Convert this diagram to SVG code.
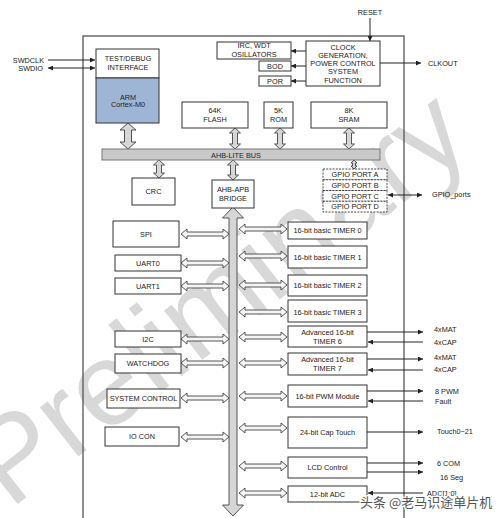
<svg xmlns="http://www.w3.org/2000/svg" xmlns:xlink="http://www.w3.org/1999/xlink" width="500" height="518" viewBox="0 0 500 518">
<style>
text{font-family:"Liberation Sans",Arial,sans-serif;font-size:7.3px;fill:#222}
.c{text-anchor:middle}
.bx{fill:#fff;stroke:#333;stroke-width:1}
.gp{fill:#fff;stroke:#333;stroke-width:0.9;stroke-dasharray:2,1.2}
.ha{fill:#f4f4f4;stroke:#444;stroke-width:0.9}
.va{fill:#d6d6d6;stroke:#444;stroke-width:0.9}
.ln{stroke:#222;stroke-width:1;fill:none}
.wm{font-size:118px;fill:#d8d8d8}
.cn{font-family:"Noto Sans CJK SC",sans-serif;font-size:13px;fill:#555;stroke:#fff;stroke-width:2.5;paint-order:stroke}
</style>
<defs>
<marker id="ah" viewBox="0 0 10 10" refX="10" refY="5" markerWidth="6" markerHeight="5" orient="auto-start-reverse"><path d="M0,0 L10,5 L0,10 z" fill="#222"/></marker>
<path id="dh" d="M0,0 l6,-5 v3 h36 v-3 l6,5 l-6,5 v-3 h-36 v3 z"/>
<path id="dv21" d="M0,0 l5.5,5 h-3 v11 h3 l-5.5,5 l-5.5,-5 h3 v-11 h-3 z"/>
</defs>
<rect width="500" height="518" fill="#fff"/>
<text class="wm" transform="translate(10,510) rotate(-38)">Preliminary</text>
<rect x="83" y="36" width="321" height="500" fill="none" stroke="#555" stroke-width="1.3"/>

<g id="connectors">
<line class="ln" x1="48" y1="60" x2="95" y2="60" marker-end="url(#ah)"/>
<line class="ln" x1="48" y1="68" x2="95" y2="68" marker-start="url(#ah)" marker-end="url(#ah)"/>
<line class="ln" x1="370" y1="18" x2="370" y2="41" marker-end="url(#ah)"/>
<line class="ln" x1="380" y1="63" x2="421" y2="63" marker-end="url(#ah)"/>
<line class="ln" x1="306" y1="51" x2="291" y2="51" marker-end="url(#ah)"/>
<line class="ln" x1="306" y1="66" x2="291" y2="66" marker-end="url(#ah)"/>
<line class="ln" x1="306" y1="81" x2="291" y2="81" stroke-width="1.6" marker-end="url(#ah)"/>
<line class="ln" x1="388" y1="195" x2="422" y2="195" marker-start="url(#ah)" marker-end="url(#ah)"/>
<path class="va" d="M128,123 L136,130 L131.5,130 L131.5,142 L136,142 L128,149 L120,142 L124.5,142 L124.5,130 L120,130 Z"/>
<use href="#dv21" class="va" x="235" y="128"/>
<use href="#dv21" class="va" x="280" y="128"/>
<use href="#dv21" class="va" x="349" y="128"/>
<path class="va" d="M159,160 l5.5,5 h-3 v8 h3 l-5.5,5 l-5.5,-5 h3 v-8 h-3 z"/>
<path class="va" d="M233,160 l5.5,5 h-3 v10 h3 l-5.5,5 l-5.5,-5 h3 v-10 h-3 z"/>
<path class="va" d="M354,160 l3,3 h-1.5 v3 h1.5 l-3,3 l-3,-3 h1.5 v-3 h-1.5 z"/>
<path class="va" d="M233,207 L243.5,218 L237,218 L237,505 L243.5,505 L233,516 L222.5,505 L229,505 L229,218 L222.5,218 Z"/>
<use href="#dh" class="ha" x="181" y="234"/>
<use href="#dh" class="ha" x="181" y="263"/>
<use href="#dh" class="ha" x="181" y="286"/>
<use href="#dh" class="ha" x="181" y="339"/>
<use href="#dh" class="ha" x="181" y="363"/>
<use href="#dh" class="ha" x="181" y="398"/>
<use href="#dh" class="ha" x="181" y="437"/>
<use href="#dh" class="ha" x="239" y="229"/>
<use href="#dh" class="ha" x="239" y="256"/>
<use href="#dh" class="ha" x="239" y="285"/>
<use href="#dh" class="ha" x="239" y="312"/>
<use href="#dh" class="ha" x="239" y="337"/>
<use href="#dh" class="ha" x="239" y="363"/>
<use href="#dh" class="ha" x="239" y="396"/>
<use href="#dh" class="ha" x="239" y="428"/>
<use href="#dh" class="ha" x="239" y="466"/>
<use href="#dh" class="ha" x="239" y="493"/>
<line class="ln" x1="367" y1="332" x2="423" y2="332" marker-end="url(#ah)"/>
<line class="ln" x1="423" y1="342" x2="368" y2="342" marker-end="url(#ah)"/>
<line class="ln" x1="367" y1="359" x2="423" y2="359" marker-end="url(#ah)"/>
<line class="ln" x1="423" y1="370" x2="368" y2="370" marker-end="url(#ah)"/>
<line class="ln" x1="367" y1="391" x2="423" y2="391" marker-end="url(#ah)"/>
<line class="ln" x1="423" y1="401" x2="368" y2="401" marker-end="url(#ah)"/>
<line class="ln" x1="367" y1="432" x2="423" y2="432" marker-end="url(#ah)"/>
<line class="ln" x1="367" y1="463" x2="423" y2="463" marker-end="url(#ah)"/>
<line class="ln" x1="367" y1="472" x2="423" y2="472" marker-end="url(#ah)"/>
<line class="ln" x1="423" y1="493" x2="368" y2="493" marker-end="url(#ah)"/>
</g>

<text x="44" y="62.5" text-anchor="end">SWDCLK</text>
<text x="43" y="70.5" text-anchor="end">SWDIO</text>
<text x="370" y="15" class="c">RESET</text>
<text x="428" y="65.5">CLKOUT</text>
<text x="432" y="197">GPIO_ports</text>
<text x="434" y="332">4xMAT</text>
<text x="434" y="344.5">4xCAP</text>
<text x="434" y="359.5">4xMAT</text>
<text x="434" y="371.5">4xCAP</text>
<text x="435" y="393.5">8 PWM</text>
<text x="435" y="403.5">Fault</text>
<text x="437" y="433.5">Touch0~21</text>
<text x="437" y="465.5">6 COM</text>
<text x="440" y="479.5">16 Seg</text>
<text x="427" y="495.5">ADC[1:0]</text>

<g id="test-debug"><rect class="bx" x="96" y="49" width="63" height="29"/><text class="c" x="128" y="61">TEST/DEBUG</text><text class="c" x="128" y="70">INTERFACE</text></g>
<g id="arm"><rect x="96" y="78" width="63" height="45" fill="#9fb5d5" stroke="#333"/><text class="c" x="128" y="99.5">ARM</text><text class="c" x="128" y="107">Cortex-M0</text></g>
<g id="irc"><rect class="bx" x="217" y="42" width="74" height="17"/><text class="c" x="254" y="48">IRC, WDT</text><text class="c" x="254" y="56.5">OSILLATORS</text></g>
<g id="bod"><rect class="bx" x="259" y="61" width="32" height="10"/><text class="c" x="275" y="68.7">BOD</text></g>
<g id="por"><rect class="bx" x="259" y="76" width="32" height="10"/><text class="c" x="275" y="83.7">POR</text></g>
<g id="clock"><rect class="bx" x="306" y="41" width="74" height="45"/><text class="c" x="343" y="49.5">CLOCK</text><text class="c" x="343" y="57.7">GENERATION,</text><text class="c" x="343" y="65.8">POWER CONTROL</text><text class="c" x="343" y="74.2">SYSTEM</text><text class="c" x="343" y="82.5">FUNCTION</text></g>
<g id="flash"><rect class="bx" x="182" y="102" width="66" height="26"/><text class="c" x="215" y="112.5">64K</text><text class="c" x="215" y="121.5">FLASH</text></g>
<g id="rom"><rect class="bx" x="264" y="102" width="29" height="26"/><text class="c" x="278.5" y="112.5">5K</text><text class="c" x="278.5" y="121.5">ROM</text></g>
<g id="sram"><rect class="bx" x="311" y="102" width="76" height="26"/><text class="c" x="349" y="112.5">8K</text><text class="c" x="349" y="121.5">SRAM</text></g>
<g id="ahb-lite-bus"><rect x="102" y="149" width="278" height="11" fill="#c9c9c9" stroke="#777"/><text class="c" x="236" y="157.5">AHB-LITE BUS</text></g>
<g id="crc"><rect class="bx" x="132" y="178" width="43" height="27"/><text class="c" x="153.5" y="194">CRC</text></g>
<g id="bridge"><rect class="bx" x="212" y="180" width="42" height="28"/><text class="c" x="233" y="191.5">AHB-APB</text><text class="c" x="233" y="200.5">BRIDGE</text></g>
<g id="gpio">
<rect class="gp" x="323" y="169" width="64" height="10.75"/><text class="c" x="355" y="177">GPIO PORT A</text>
<rect class="gp" x="323" y="179.75" width="64" height="10.75"/><text class="c" x="355" y="187.7">GPIO PORT B</text>
<rect class="gp" x="323" y="190.5" width="64" height="10.75"/><text class="c" x="355" y="198.5">GPIO PORT C</text>
<rect class="gp" x="323" y="201.25" width="64" height="10.75"/><text class="c" x="355" y="209.2">GPIO PORT D</text>
</g>
<g id="spi"><rect class="bx" x="113" y="221" width="66" height="26"/><text class="c" x="146" y="236.5">SPI</text></g>
<g id="uart0"><rect class="bx" x="115" y="255" width="66" height="16"/><text class="c" x="148" y="265.5">UART0</text></g>
<g id="uart1"><rect class="bx" x="115" y="278" width="66" height="16"/><text class="c" x="148" y="288.5">UART1</text></g>
<g id="i2c"><rect class="bx" x="115" y="331" width="66" height="16"/><text class="c" x="148" y="341.5">I2C</text></g>
<g id="watchdog"><rect class="bx" x="115" y="354" width="66" height="19"/><text class="c" x="148" y="366">WATCHDOG</text></g>
<g id="system-control"><rect class="bx" x="107" y="389" width="73" height="19"/><text class="c" x="143.5" y="401">SYSTEM CONTROL</text></g>
<g id="io-con"><rect class="bx" x="105" y="427" width="74" height="19"/><text class="c" x="142" y="439">IO CON</text></g>
<g id="timer0"><rect class="bx" x="288" y="222" width="79" height="17"/><text class="c" x="327.5" y="233">16-bit basic TIMER 0</text></g>
<g id="timer1"><rect class="bx" x="288" y="246" width="79" height="22"/><text class="c" x="327.5" y="259.5">16-bit basic TIMER 1</text></g>
<g id="timer2"><rect class="bx" x="288" y="275" width="79" height="21"/><text class="c" x="327.5" y="288">16-bit basic TIMER 2</text></g>
<g id="timer3"><rect class="bx" x="288" y="300" width="79" height="22"/><text class="c" x="327.5" y="315">16-bit basic TIMER 3</text></g>
<g id="timer6"><rect class="bx" x="288" y="326" width="79" height="21"/><text class="c" x="327.5" y="334.5">Advanced 16-bit</text><text class="c" x="327.5" y="344">TIMER 6</text></g>
<g id="timer7"><rect class="bx" x="288" y="353" width="79" height="22"/><text class="c" x="327.5" y="361.5">Advanced 16-bit</text><text class="c" x="327.5" y="371">TIMER 7</text></g>
<g id="pwm"><rect class="bx" x="288" y="385" width="79" height="22"/><text class="c" x="327.5" y="398.5">16-bit PWM Module</text></g>
<g id="cap-touch"><rect class="bx" x="288" y="417" width="79" height="31"/><text class="c" x="327.5" y="434.5">24-bit Cap Touch</text></g>
<g id="lcd"><rect class="bx" x="288" y="457" width="79" height="21"/><text class="c" x="327.5" y="470">LCD Control</text></g>
<g id="adc"><rect class="bx" x="288" y="486" width="79" height="16"/><text class="c" x="327.5" y="496.5">12-bit ADC</text></g>

<text class="cn" x="360" y="507">头条 @老马识途单片机</text>
</svg>
